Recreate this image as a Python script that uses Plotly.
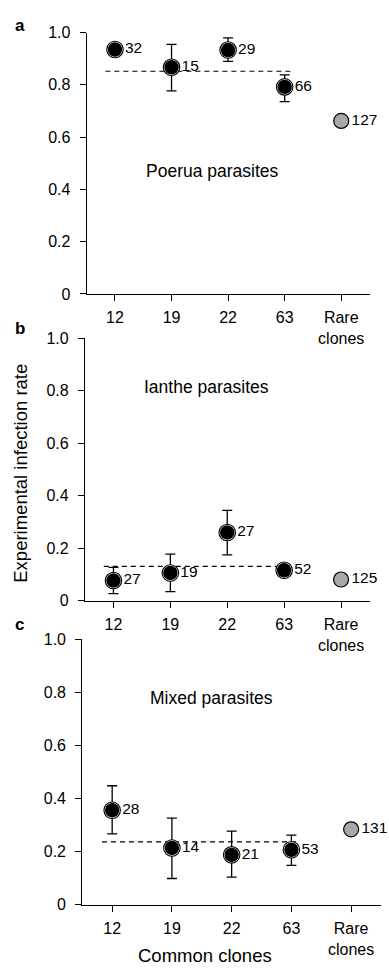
import plotly.graph_objects as go

W, H = 389, 975

# ---------------- data ----------------
categories = ["12", "19", "22", "63", "Rare<br>clones"]
positions = [0, 1, 2, 3, 4]

# Panel a: Poerua parasites
a_common = [0.935, 0.867, 0.933, 0.792]
a_err_plus = [0.0, 0.088, 0.047, 0.046]
a_err_minus = [0.0, 0.090, 0.043, 0.056]
a_rare = 0.662
a_n = ["32", "15", "29", "66", "127"]
a_mean = 0.852

# Panel b: Ianthe parasites
b_common = [0.077, 0.106, 0.260, 0.116]
b_err_plus = [0.050, 0.072, 0.084, 0.015]
b_err_minus = [0.050, 0.071, 0.085, 0.012]
b_rare = 0.081
b_n = ["27", "19", "27", "52", "125"]
b_mean = 0.131

# Panel c: Mixed parasites
c_common = [0.356, 0.214, 0.188, 0.207]
c_err_plus = [0.092, 0.112, 0.089, 0.055]
c_err_minus = [0.089, 0.115, 0.084, 0.059]
c_rare = 0.284
c_n = ["28", "14", "21", "53", "131"]
c_mean = 0.237

panel_titles = ["Poerua parasites", "Ianthe parasites", "Mixed parasites"]
panel_letters = ["a", "b", "c"]
y_ticks = [0, 0.2, 0.4, 0.6, 0.8, 1.0]
y_ticktext = ["0", "0.2", "0.4", "0.6", "0.8", "1.0"]
y_title = "Experimental infection rate"
x_title = "Common clones"

FONT = "Liberation Sans, Arial, Helvetica, sans-serif"


def fx(px):
    return px / W


def fy(py):
    return 1 - py / H


panels = [
    dict(common=a_common, ep=a_err_plus, em=a_err_minus, rare=a_rare, n=a_n, mean=a_mean,
         xpx=(86.7, 369.5), ypx=(25, 291), title_pos=(1.73, 0.47), letter_px=(13, 18)),
    dict(common=b_common, ep=b_err_plus, em=b_err_minus, rare=b_rare, n=b_n, mean=b_mean,
         xpx=(85, 369.5), ypx=(336, 603.3), title_pos=(1.64, 0.814), letter_px=(13, 326)),
    dict(common=c_common, ep=c_err_plus, em=c_err_minus, rare=c_rare, n=c_n, mean=c_mean,
         xpx=(82.3, 381), ypx=(642.3, 912.7), title_pos=(1.67, 0.78), letter_px=(13, 627)),
]

fig = go.Figure()
annotations = []
shapes = []

for i, p in enumerate(panels):
    k = "" if i == 0 else str(i + 1)
    xa, ya = "x" + k, "y" + k
    common_x = positions[:4]
    # outer ring
    fig.add_trace(go.Scatter(
        x=common_x, y=p["common"], mode="markers", xaxis=xa, yaxis=ya,
        marker=dict(size=16.5, color="white", line=dict(color="black", width=1.1)),
        error_y=dict(type="data", symmetric=False, array=p["ep"], arrayminus=p["em"],
                     color="black", thickness=1.3, width=5),
        showlegend=False, hoverinfo="skip", cliponaxis=False))
    # inner black dot with labels
    fig.add_trace(go.Scatter(
        x=common_x, y=p["common"], mode="markers+text", xaxis=xa, yaxis=ya,
        marker=dict(size=14.4, color="black"),
        text=p["n"][:4], textposition="middle right",
        textfont=dict(family=FONT, size=15.5, color="black"),
        showlegend=False, cliponaxis=False))
    # rare clones
    fig.add_trace(go.Scatter(
        x=[positions[4]], y=[p["rare"]], mode="markers+text", xaxis=xa, yaxis=ya,
        marker=dict(size=15, color="#a8a8a8", line=dict(color="black", width=1.2)),
        text=[p["n"][4]], textposition="middle right",
        textfont=dict(family=FONT, size=15.5, color="black"),
        showlegend=False, cliponaxis=False))
    # mean dashed line
    shapes.append(dict(type="line", xref=xa, yref=ya, x0=-0.17, x1=3.12,
                       y0=p["mean"], y1=p["mean"],
                       line=dict(color="black", width=1.2, dash="5px,4px"), layer="below"))

    xd = [fx(p["xpx"][0]), fx(p["xpx"][1])]
    yd = [fy(p["ypx"][1]), fy(p["ypx"][0])]
    axis_common = dict(showline=True, linecolor="black", linewidth=1.2, ticks="outside",
                       ticklen=6, tickwidth=1.2, tickcolor="black", showgrid=False,
                       zeroline=False, tickfont=dict(family=FONT, size=16, color="black"))
    fig.update_layout(**{
        "xaxis" + k: dict(domain=xd, range=[-0.5, 4.5], tickvals=positions, ticktext=categories,
                          anchor=ya, ticklabelstandoff=3, **axis_common),
        "yaxis" + k: dict(domain=yd, range=[0, 1.0], tickvals=y_ticks, ticktext=y_ticktext,
                          anchor=xa, ticklabelstandoff=6, **axis_common),
    })
    annotations.append(dict(text=panel_titles[i], x=p["title_pos"][0], y=p["title_pos"][1],
                            xref=xa, yref=ya, showarrow=False, xanchor="center", yanchor="middle",
                            font=dict(family=FONT, size=17.5, color="black")))
    annotations.append(dict(text="<b>" + panel_letters[i] + "</b>",
                            x=fx(p["letter_px"][0]), y=fy(p["letter_px"][1]),
                            xref="paper", yref="paper", showarrow=False,
                            xanchor="left", yanchor="middle",
                            font=dict(family=FONT, size=17, color="black")))

annotations.append(dict(text=y_title, x=fx(21), y=fy(474), xref="paper", yref="paper",
                        showarrow=False, textangle=-90, xanchor="center", yanchor="middle",
                        font=dict(family=FONT, size=18.5, color="black")))
annotations.append(dict(text=x_title, x=fx(204.5), y=fy(964), xref="paper", yref="paper",
                        showarrow=False, xanchor="center", yanchor="middle",
                        font=dict(family=FONT, size=18.5, color="black")))

fig.update_layout(width=W, height=H, margin=dict(l=0, r=0, t=0, b=0),
                  paper_bgcolor="white", plot_bgcolor="white",
                  annotations=annotations, shapes=shapes, showlegend=False,
                  font=dict(family=FONT, color="black"))

fig.write_html(
    "out.html",
    config={"displayModeBar": False},
    post_script="document.body.style.margin='0px';"
                "document.documentElement.style.overflow='hidden';"
                "document.body.style.overflow='hidden';",
)
